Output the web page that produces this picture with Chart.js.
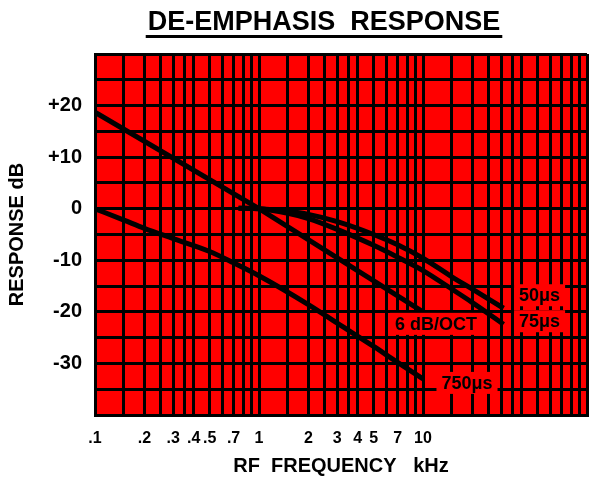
<!DOCTYPE html>
<html><head><meta charset="utf-8">
<script src="https://cdn.jsdelivr.net/npm/chart.js@4.4.1/dist/chart.umd.min.js"></script>
<style>html,body{margin:0;padding:0;background:#fff}#wrap{width:601px;height:483px;position:relative}</style>
</head><body><div id="wrap"><canvas id="c" width="601" height="483"></canvas></div>
<script>
const titleText = 'DE-EMPHASIS  RESPONSE';
const xTitleText = 'RF  FREQUENCY   kHz';
const yTitleText = 'RESPONSE dB';

const xDecades = [0.1, 1, 10];
const xGridMultiples = [1, 1.5, 2, 2.5, 3, 3.5, 4, 5, 6, 7, 8, 9];
const xLabelValues = [0.1, 0.2, 0.3, 0.4, 0.5, 0.7, 1, 2, 3, 4, 5, 7, 10];
const xLabelTexts = ['.1', '.2', '.3', '.4', '.5', '.7', '1', '2', '3', '4', '5', '7', '10'];
const yLabelValues = [20, 10, 0, -10, -20, -30];
const yLabelTexts = ['+20', '+10', '0', '-10', '-20', '-30'];

const seriesNames = ['6 dB/OCT', '50μs', '75μs', '750μs'];
const freq6 = [0.1, 1, 10];
const resp6 = [18.7, 0, -20];
const freq50 = [0.75, 1, 1.5, 2, 3, 5, 7, 10, 15, 20, 31];
const resp50 = [0.1, 0, -0.5, -1.1, -2.5, -5.0, -7.0, -9.6, -13.2, -15.6, -19.3];
const freq75 = [0.75, 1, 1.5, 2, 3, 5, 7, 10, 15, 20, 31];
const resp75 = [0.1, 0, -0.9, -1.9, -4.0, -7.1, -9.4, -12.0, -15.6, -18.2, -22.4];
const freq750 = [0.1, 0.15, 0.2, 0.3, 0.5, 0.7, 1, 2, 3, 5, 7, 10];
const resp750 = [0, -2.2, -3.8, -5.8, -8.3, -10.5, -13, -18.6, -22.2, -26.7, -29.8, -33.0];

const xGridValues = xDecades.flatMap(d => xGridMultiples.map(m => +(d * m).toPrecision(3))).concat([100]);

function pts(xs, ys) { return xs.map((x, i) => ({ x: x, y: ys[i] })); }

const FONT = "'Liberation Sans', Arial, sans-serif";

const redBg = {
  id: 'redBg',
  beforeDraw(chart) {
    const { ctx, chartArea: a } = chart;
    ctx.save();
    ctx.fillStyle = '#ff0000';
    ctx.fillRect(a.left, a.top, a.right - a.left, a.bottom - a.top);
    ctx.restore();
  }
};

const curveLabels = [
  { ds: 1, dx: 36, dy: -13 },
  { ds: 2, dx: 36, dy: -3 },
  { ds: 0, dx: 13, dy: 12 },
  { ds: 3, dx: 44, dy: 4 }
];

const labelPlugin = {
  id: 'labelPlugin',
  afterDatasetsDraw(chart) {
    const ctx = chart.ctx;
    ctx.save();
    ctx.font = 'bold 18px ' + FONT;
    ctx.textAlign = 'center';
    ctx.textBaseline = 'middle';
    curveLabels.forEach(l => {
      const meta = chart.getDatasetMeta(l.ds);
      const p = meta.data[meta.data.length - 1];
      const cx = p.x + l.dx, cy = p.y + l.dy;
      const txt = chart.data.datasets[l.ds].label;
      const w = ctx.measureText(txt).width;
      ctx.fillStyle = '#ff0000';
      ctx.fillRect(cx - w / 2 - 5, cy - 11, w + 10, 22);
      ctx.fillStyle = '#000';
      ctx.fillText(txt, cx, cy + 1);
    });
    ctx.restore();
  }
};

const titlePlugin = {
  id: 'titlePlugin',
  afterDraw(chart) {
    const ctx = chart.ctx;
    ctx.save();
    ctx.font = 'bold 27px ' + FONT;
    ctx.textAlign = 'center';
    ctx.textBaseline = 'alphabetic';
    ctx.fillStyle = '#000';
    const cx = 324;
    ctx.fillText(titleText, cx, 30);
    const w = ctx.measureText(titleText).width;
    ctx.fillRect(cx - w / 2 - 2, 35, w + 4, 3);
    ctx.restore();
  }
};

new Chart(document.getElementById('c'), {
  type: 'line',
  data: {
    datasets: [
      { label: seriesNames[0], data: pts(freq6, resp6), tension: 0 },
      { label: seriesNames[1], data: pts(freq50, resp50), cubicInterpolationMode: 'monotone' },
      { label: seriesNames[2], data: pts(freq75, resp75), cubicInterpolationMode: 'monotone' },
      { label: seriesNames[3], data: pts(freq750, resp750), cubicInterpolationMode: 'monotone' }
    ].map(d => Object.assign({ borderColor: '#000', borderWidth: 5, pointRadius: 0, fill: false, borderCapStyle: 'butt', borderJoinStyle: 'round' }, d))
  },
  options: {
    responsive: false,
    animation: false,
    devicePixelRatio: 1,
    layout: { padding: { top: 54, right: 0, bottom: 0, left: 0 } },
    plugins: { legend: { display: false }, tooltip: { enabled: false }, title: { display: false } },
    scales: {
      x: {
        type: 'logarithmic',
        min: 0.1, max: 100,
        afterBuildTicks: (s) => { s.ticks = xGridValues.map(v => ({ value: v })); },
        afterFit: (s) => { s.height = 68; },
        grid: { color: '#000', lineWidth: 3, drawTicks: false },
        border: { display: true, color: '#000', width: 3 },
        ticks: {
          autoSkip: false, maxRotation: 0, padding: 14, color: '#000',
          font: { family: FONT, size: 16, weight: 'bold' },
          callback: (v) => {
            const i = xLabelValues.findIndex(t => Math.abs(t - v) / t < 1e-6);
            return i >= 0 ? xLabelTexts[i] : '';
          }
        },
        title: { display: true, text: xTitleText, color: '#000', font: { family: FONT, size: 20, weight: 'bold' }, padding: { top: 0, bottom: 5 } }
      },
      y: {
        type: 'linear',
        min: -40, max: 30,
        afterFit: (s) => { s.width = 95; },
        grid: { color: '#000', lineWidth: 3, drawTicks: false },
        border: { display: true, color: '#000', width: 3 },
        ticks: {
          stepSize: 5, padding: 13, color: '#000', autoSkip: false,
          font: { family: FONT, size: 20, weight: 'bold' },
          callback: (v) => {
            const i = yLabelValues.indexOf(v);
            return i >= 0 ? yLabelTexts[i] : '';
          }
        },
        title: { display: true, text: yTitleText, color: '#000', font: { family: FONT, size: 20, weight: 'bold' }, padding: { top: 5, bottom: 0 } }
      }
    }
  },
  plugins: [redBg, labelPlugin, titlePlugin]
});
</script></body></html>
